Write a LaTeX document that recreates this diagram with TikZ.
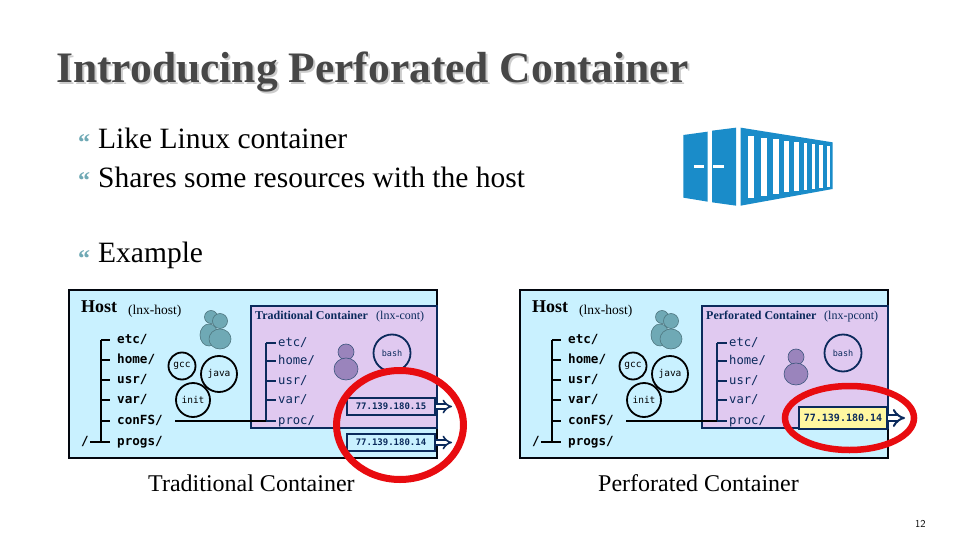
\documentclass[tikz,border=0pt]{standalone}
\usepackage{fontspec}
\usepackage{xcolor}
\setmainfont{Liberation Serif}
\setmonofont{DejaVu Sans Mono}
\usetikzlibrary{arrows.meta}

\definecolor{navyline}{HTML}{0B2A5C}
\definecolor{hostblue}{HTML}{C9F1FF}
\definecolor{contlilac}{HTML}{E0C9F0}
\definecolor{ipyellow}{HTML}{FFF7A0}
\definecolor{iconblue}{HTML}{1A8CC9}
\definecolor{tealman}{HTML}{6FA9B5}
\definecolor{purpleman}{HTML}{9A84BC}
\definecolor{ringred}{HTML}{E80C10}
\definecolor{titlegray}{HTML}{474747}

\tikzset{
    txt/.style={anchor=base west, inner sep=0pt},
    bodytxt/.style={txt, font=\fontsize{29.5}{29.5}\selectfont},
    bullet/.style={txt, text=tealman, font=\fontsize{24}{24}\selectfont\bfseries},
    hostbox/.style={draw=black!85!navyline, line width=2pt, fill=hostblue},
    contbox/.style={draw=navyline, line width=2pt, fill=contlilac},
    dirtxt/.style={anchor=west, inner xsep=7pt, inner ysep=0pt, text height=9pt, text depth=3pt, font=\ttfamily\bfseries\fontsize{12.6}{12.6}\selectfont},
    conttxt/.style={anchor=west, inner xsep=2pt, inner ysep=0pt, text height=9pt, text depth=3pt, text=navyline, font=\ttfamily\fontsize{12.2}{12.2}\selectfont},
    proc/.style={circle, draw, line width=1.8pt, inner sep=0pt, font=\ttfamily\fontsize{9.5}{9.5}\selectfont},
    ipbox/.style={draw=navyline, line width=1.6pt, minimum width=88pt, minimum height=17pt, inner sep=0pt, text=navyline, font=\ttfamily\bfseries\fontsize{9}{9}\selectfont},
    ipout/.style={draw=navyline, line width=1.6pt, double distance=3pt, -{Implies}},
    ring/.style={draw=ringred, line width=7pt},
}

\begin{document}
\begin{tikzpicture}[x=1pt, y=-1pt]
    \useasboundingbox[fill=white] (0,0) rectangle (960,540);

    % title and bullets
    \node[txt, text=black!20, font=\fontsize{43.5}{43.5}\selectfont\bfseries] (titleshadow) at (58,85) {Introducing Perforated Container};
    \node[txt, text=titlegray, font=\fontsize{43.5}{43.5}\selectfont\bfseries] (title) at (56,83) {Introducing Perforated Container};
    \node[bullet] (b1) at (78,151) {“};
    \node[bullet] (b2) at (78,189) {“};
    \node[bullet] (b3) at (78,266) {“};
    \node[bodytxt] (like) at (98,149) {Like Linux container};
    \node[bodytxt] (shares) at (98,187) {Shares some resources with the host};
    \node[bodytxt] (example) at (98,262) {Example};

    % container icon
    \begin{scope}[shift={(670,115)}, x=0.3333pt, y=-0.3333pt]
        \fill[iconblue] (40,60) -- (113,50) -- (113,260) -- (40,248) -- cycle;
        \fill[iconblue] (126,47) -- (198,38) -- (198,272) -- (126,262) -- cycle;
        \fill[iconblue] (212,38) -- (488,82) -- (488,222) -- (212,272) -- cycle;
        \fill[white] (72,150) rectangle (103,158);
        \fill[white] (130,150) rectangle (162,158);
        \foreach \a/\b/\t/\u in {233/252/62/248, 273/291/68/242, 310/327/72/238, 343/358/77/232, 373/386/80/228, 401/412/83/225, 425/436/86/222, 448/458/90/219, 470/479/92/216}
            \fill[white] (\a,\t) rectangle (\b,\u);
    \end{scope}

    % both hosts are the same apart from the shift
    \foreach \p/\dx in {l/0, r/451} {
    \begin{scope}[xshift=\dx]
        \draw[hostbox] (69,290) rectangle (437,458);
        \node[txt, font=\fontsize{18}{18}\selectfont\bfseries] (\p host) at (81,312) {Host};
        \node[txt, font=\fontsize{13.5}{13.5}\selectfont] (\p hostname) at (128,314) {(lnx-host)};

        % people
        \filldraw[fill=tealman, draw=tealman!70!black, line width=.6pt] (211,317) circle (6.5);
        \filldraw[fill=tealman, draw=tealman!70!black, line width=.6pt] (209,335) ellipse [x radius=9, y radius=11];
        \filldraw[fill=tealman, draw=tealman!70!black, line width=.6pt] (220,321) circle (7.5);
        \filldraw[fill=tealman, draw=tealman!70!black, line width=.6pt] (220,339) ellipse [x radius=11, y radius=10];

        \node[proc, minimum size=27pt] (\p gcc) at (182,366) {gcc};
        \node[proc, minimum size=36pt] (\p java) at (219,374) {java};
        \node[proc, minimum size=34pt] (\p init) at (193,400) {init};

        \draw[contbox] (251,306) rectangle (437,428);

        % host tree
        \foreach \d/\y in {etc/340, home/360, usr/380, var/400, conFS/421, progs/442} {
            \coordinate (\p s\d) at (101,\y);
            \node[dirtxt] (\p\d) at (110,\y) {\d/};
            \draw[line width=1.6pt] (\p s\d) -- (\p\d.west);
        }
        \draw[line width=1.6pt] (\p setc) -- (\p sprogs);
        \node[dirtxt, inner xsep=0pt] (\p root) at (81,442) {/};
        \draw[line width=1.6pt] (\p root.east) ++(1,0) -- (\p sprogs);

        % container tree
        \foreach \d/\y in {etc/343, home/361, usr/381, var/400, proc/421} {
            \coordinate (\p cs\d) at (266,\y);
            \node[conttxt] (\p c\d) at (276,\y) {\d/};
            \draw[draw=navyline, line width=1.4pt] (\p cs\d) -- (\p c\d.west);
        }
        \draw[draw=navyline, line width=1.8pt] (\p csetc) -- (\p csproc);
        \coordinate (\p line) at (175,421);
        \draw[line width=1.6pt] (\p line) -- (\p csproc);

        \node[proc, draw=navyline, text=navyline, minimum size=37pt, font=\ttfamily\fontsize{8.5}{8.5}\selectfont] (\p bash) at (392,353) {bash};
    \end{scope}
    }

    % left container
    \node[txt, text=navyline, font=\fontsize{12}{12}\selectfont\bfseries] (ltitle) at (255,319) {Traditional Container};
    \node[txt, text=navyline, font=\fontsize{12}{12}\selectfont] (lname) at (376,319) {(lnx-cont)};
    \filldraw[fill=purpleman, draw=navyline!80, line width=.6pt] (346,352) circle (8);
    \filldraw[fill=purpleman, draw=navyline!80, line width=.6pt] (346,369) ellipse [x radius=12, y radius=11];
    \node[ipbox, fill=contlilac] (ip1) at (391,406.5) {77.139.180.15};
    \node[ipbox, fill=hostblue] (ip2) at (391,442.5) {77.139.180.14};
    \coordinate (out1) at (452,406.5);
    \coordinate (out2) at (452,442.5);
    \draw[ipout] (ip1) -- (out1);
    \draw[ipout] (ip2) -- (out2);
    \draw[ring] (400,425) ellipse [x radius=63.5, y radius=54.5];
    \node[txt, font=\fontsize{24}{24}\selectfont] (lcaption) at (148,491) {Traditional Container};

    % right container
    \node[txt, text=navyline, font=\fontsize{12}{12}\selectfont\bfseries] (rtitle) at (706,319) {Perforated Container};
    \node[txt, text=navyline, font=\fontsize{12}{12}\selectfont] (rname) at (824,319) {(lnx-pcont)};
    \filldraw[fill=purpleman, draw=navyline!80, line width=.6pt] (796,357) circle (8);
    \filldraw[fill=purpleman, draw=navyline!80, line width=.6pt] (796,374) ellipse [x radius=12, y radius=11];
    \node[ipbox, fill=ipyellow, minimum height=22pt, font=\ttfamily\bfseries\fontsize{10}{10}\selectfont] (ip3) at (843,418) {77.139.180.14};
    \coordinate (out3) at (905,418);
    \draw[ipout, line width=2pt, double distance=4pt] (ip3) -- (out3);
    \draw[ring, line width=6.5pt] (849.5,418) ellipse [x radius=64.5, y radius=32];
    \node[txt, font=\fontsize{24}{24}\selectfont] (rcaption) at (598,491) {Perforated Container};

    % slide number
    \node[txt, font=\sffamily\fontsize{10.5}{10.5}\selectfont] (pagenum) at (915,527) {12};
\end{tikzpicture}
\end{document}
